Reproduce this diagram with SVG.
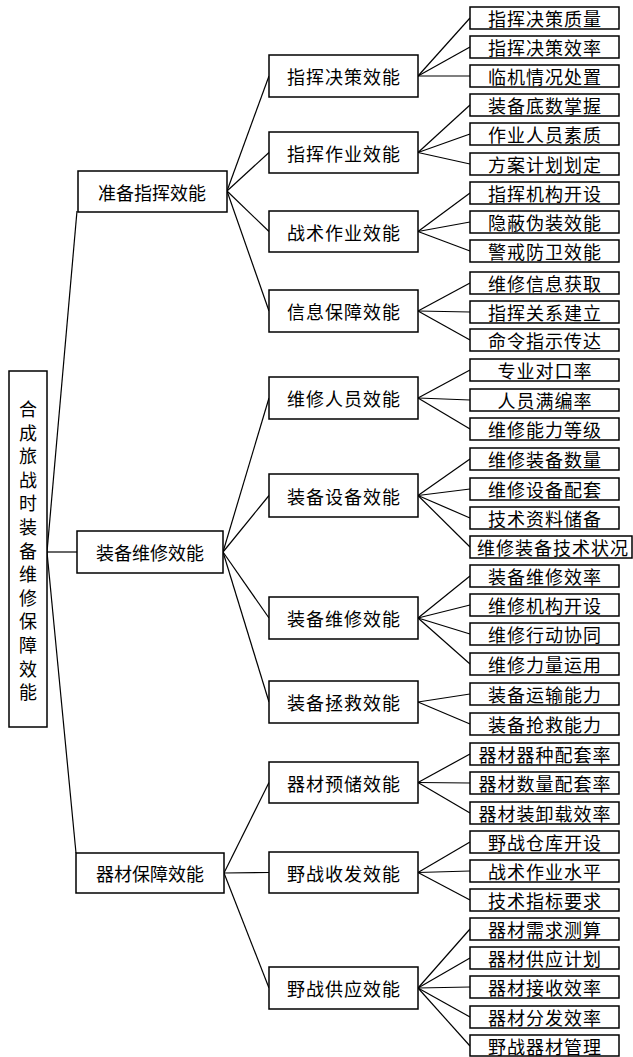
<svg xmlns="http://www.w3.org/2000/svg" width="633" height="1057" viewBox="0 0 633 1057">
<style>
.b{fill:#fff;stroke:#000;stroke-width:1.5}
.t{font-family:"Noto Sans CJK SC",sans-serif;font-size:18px;fill:#000;text-anchor:middle;dominant-baseline:central;letter-spacing:1px}
.r{letter-spacing:0}
.c line{stroke:#000;stroke-width:1.2}
</style>
<rect width="633" height="1057" fill="#fff"/>
<g class="c">
<line x1="47" y1="552" x2="77" y2="211"/>
<line x1="47" y1="552" x2="77" y2="552"/>
<line x1="47" y1="552" x2="76" y2="853"/>
<line x1="227" y1="191" x2="269" y2="76"/>
<line x1="227" y1="191" x2="269" y2="152.5"/>
<line x1="227" y1="191" x2="269" y2="231.5"/>
<line x1="227" y1="191" x2="269" y2="311"/>
<line x1="223" y1="552" x2="269" y2="398"/>
<line x1="223" y1="552" x2="269" y2="495.5"/>
<line x1="223" y1="552" x2="269" y2="618"/>
<line x1="223" y1="552" x2="269" y2="702"/>
<line x1="224" y1="873" x2="269" y2="782.5"/>
<line x1="224" y1="873" x2="269" y2="872.5"/>
<line x1="224" y1="873" x2="269" y2="988"/>
<line x1="418" y1="76" x2="470" y2="18"/>
<line x1="418" y1="76" x2="470" y2="47"/>
<line x1="418" y1="76" x2="470" y2="76"/>
<line x1="418" y1="152.5" x2="470" y2="105"/>
<line x1="418" y1="152.5" x2="470" y2="134"/>
<line x1="418" y1="152.5" x2="470" y2="164"/>
<line x1="418" y1="231.5" x2="470" y2="193"/>
<line x1="418" y1="231.5" x2="470" y2="222"/>
<line x1="418" y1="231.5" x2="470" y2="251"/>
<line x1="418" y1="311" x2="470" y2="283"/>
<line x1="418" y1="311" x2="470" y2="312"/>
<line x1="418" y1="311" x2="470" y2="340"/>
<line x1="418" y1="398" x2="470" y2="370"/>
<line x1="418" y1="398" x2="470" y2="400"/>
<line x1="418" y1="398" x2="470" y2="429"/>
<line x1="418" y1="495.5" x2="470" y2="459"/>
<line x1="418" y1="495.5" x2="470" y2="489"/>
<line x1="418" y1="495.5" x2="470" y2="518"/>
<line x1="418" y1="495.5" x2="470" y2="547"/>
<line x1="418" y1="618" x2="470" y2="576"/>
<line x1="418" y1="618" x2="470" y2="605"/>
<line x1="418" y1="618" x2="470" y2="634"/>
<line x1="418" y1="618" x2="470" y2="664"/>
<line x1="418" y1="702" x2="470" y2="694"/>
<line x1="418" y1="702" x2="470" y2="724"/>
<line x1="418" y1="782.5" x2="470" y2="754"/>
<line x1="418" y1="782.5" x2="470" y2="783"/>
<line x1="418" y1="782.5" x2="470" y2="813"/>
<line x1="418" y1="872.5" x2="470" y2="842"/>
<line x1="418" y1="872.5" x2="470" y2="871"/>
<line x1="418" y1="872.5" x2="470" y2="900"/>
<line x1="418" y1="988" x2="470" y2="929"/>
<line x1="418" y1="988" x2="470" y2="958"/>
<line x1="418" y1="988" x2="470" y2="987"/>
<line x1="418" y1="988" x2="470" y2="1017"/>
<line x1="418" y1="988" x2="470" y2="1046"/>
</g>
<g id="root"><rect class="b" x="9" y="371" width="38" height="356"/>
<text class="t r" x="28" y="408">合</text><text class="t r" x="28" y="431.6">成</text><text class="t r" x="28" y="455.2">旅</text><text class="t r" x="28" y="478.8">战</text><text class="t r" x="28" y="502.4">时</text><text class="t r" x="28" y="526">装</text><text class="t r" x="28" y="549.6">备</text><text class="t r" x="28" y="573.2">维</text><text class="t r" x="28" y="596.8">修</text><text class="t r" x="28" y="620.4">保</text><text class="t r" x="28" y="644">障</text><text class="t r" x="28" y="667.6">效</text><text class="t r" x="28" y="691.2">能</text></g>
<g id="n1"><rect class="b" x="78" y="171" width="149" height="41"/><text class="t r" x="152" y="191.5">准备指挥效能</text></g>
<g id="n2"><rect class="b" x="77" y="531" width="146" height="42"/><text class="t r" x="150" y="552">装备维修效能</text></g>
<g id="n3"><rect class="b" x="76" y="853" width="148" height="40"/><text class="t r" x="150" y="873">器材保障效能</text></g>
<g id="m1"><rect class="b" x="269" y="55" width="149" height="42"/><text class="t" x="344" y="76">指挥决策效能</text></g>
<g id="m2"><rect class="b" x="269" y="132" width="149" height="41"/><text class="t" x="344" y="152.5">指挥作业效能</text></g>
<g id="m3"><rect class="b" x="269" y="211" width="149" height="41"/><text class="t" x="344" y="231.5">战术作业效能</text></g>
<g id="m4"><rect class="b" x="269" y="290" width="149" height="42"/><text class="t" x="344" y="311">信息保障效能</text></g>
<g id="m5"><rect class="b" x="269" y="377" width="149" height="42"/><text class="t" x="344" y="398">维修人员效能</text></g>
<g id="m6"><rect class="b" x="269" y="474" width="149" height="43"/><text class="t" x="344" y="495.5">装备设备效能</text></g>
<g id="m7"><rect class="b" x="269" y="597" width="149" height="42"/><text class="t" x="344" y="618">装备维修效能</text></g>
<g id="m8"><rect class="b" x="269" y="681" width="149" height="42"/><text class="t" x="344" y="702">装备拯救效能</text></g>
<g id="m9"><rect class="b" x="269" y="762" width="149" height="41"/><text class="t" x="344" y="782.5">器材预储效能</text></g>
<g id="m10"><rect class="b" x="269" y="852" width="149" height="41"/><text class="t" x="344" y="872.5">野战收发效能</text></g>
<g id="m11"><rect class="b" x="269" y="967" width="149" height="42"/><text class="t" x="344" y="988">野战供应效能</text></g>
<g id="l0"><rect class="b" x="470" y="7" width="149" height="22"/><text class="t" x="545" y="18">指挥决策质量</text></g>
<g id="l1"><rect class="b" x="470" y="36" width="149" height="22"/><text class="t" x="545" y="47">指挥决策效率</text></g>
<g id="l2"><rect class="b" x="470" y="65" width="149" height="22"/><text class="t" x="545" y="76">临机情况处置</text></g>
<g id="l3"><rect class="b" x="470" y="94" width="149" height="22"/><text class="t" x="545" y="105">装备底数掌握</text></g>
<g id="l4"><rect class="b" x="470" y="123" width="149" height="22"/><text class="t" x="545" y="134">作业人员素质</text></g>
<g id="l5"><rect class="b" x="470" y="153" width="149" height="22"/><text class="t" x="545" y="164">方案计划划定</text></g>
<g id="l6"><rect class="b" x="470" y="182" width="149" height="22"/><text class="t" x="545" y="193">指挥机构开设</text></g>
<g id="l7"><rect class="b" x="470" y="211" width="149" height="22"/><text class="t" x="545" y="222">隐蔽伪装效能</text></g>
<g id="l8"><rect class="b" x="470" y="240" width="149" height="22"/><text class="t" x="545" y="251">警戒防卫效能</text></g>
<g id="l9"><rect class="b" x="470" y="272" width="149" height="22"/><text class="t" x="545" y="283">维修信息获取</text></g>
<g id="l10"><rect class="b" x="470" y="301" width="149" height="22"/><text class="t" x="545" y="312">指挥关系建立</text></g>
<g id="l11"><rect class="b" x="470" y="329" width="149" height="22"/><text class="t" x="545" y="340">命令指示传达</text></g>
<g id="l12"><rect class="b" x="470" y="359" width="149" height="22"/><text class="t" x="545" y="370">专业对口率</text></g>
<g id="l13"><rect class="b" x="470" y="389" width="149" height="22"/><text class="t" x="545" y="400">人员满编率</text></g>
<g id="l14"><rect class="b" x="470" y="418" width="149" height="22"/><text class="t" x="545" y="429">维修能力等级</text></g>
<g id="l15"><rect class="b" x="470" y="448" width="149" height="22"/><text class="t" x="545" y="459">维修装备数量</text></g>
<g id="l16"><rect class="b" x="470" y="478" width="149" height="22"/><text class="t" x="545" y="489">维修设备配套</text></g>
<g id="l17"><rect class="b" x="470" y="507" width="149" height="22"/><text class="t" x="545" y="518">技术资料储备</text></g>
<g id="l18"><rect class="b" x="470" y="536" width="162" height="22"/><text class="t" x="553" y="547">维修装备技术状况</text></g>
<g id="l19"><rect class="b" x="470" y="565" width="149" height="22"/><text class="t" x="545" y="576">装备维修效率</text></g>
<g id="l20"><rect class="b" x="470" y="594" width="149" height="22"/><text class="t" x="545" y="605">维修机构开设</text></g>
<g id="l21"><rect class="b" x="470" y="623" width="149" height="22"/><text class="t" x="545" y="634">维修行动协同</text></g>
<g id="l22"><rect class="b" x="470" y="653" width="149" height="22"/><text class="t" x="545" y="664">维修力量运用</text></g>
<g id="l23"><rect class="b" x="470" y="683" width="149" height="22"/><text class="t" x="545" y="694">装备运输能力</text></g>
<g id="l24"><rect class="b" x="470" y="713" width="149" height="22"/><text class="t" x="545" y="724">装备抢救能力</text></g>
<g id="l25"><rect class="b" x="470" y="743" width="149" height="22"/><text class="t" x="545" y="754">器材器种配套率</text></g>
<g id="l26"><rect class="b" x="470" y="772" width="149" height="22"/><text class="t" x="545" y="783">器材数量配套率</text></g>
<g id="l27"><rect class="b" x="470" y="802" width="149" height="22"/><text class="t" x="545" y="813">器材装卸载效率</text></g>
<g id="l28"><rect class="b" x="470" y="831" width="149" height="22"/><text class="t" x="545" y="842">野战仓库开设</text></g>
<g id="l29"><rect class="b" x="470" y="860" width="149" height="22"/><text class="t" x="545" y="871">战术作业水平</text></g>
<g id="l30"><rect class="b" x="470" y="889" width="149" height="22"/><text class="t" x="545" y="900">技术指标要求</text></g>
<g id="l31"><rect class="b" x="470" y="918" width="149" height="22"/><text class="t" x="545" y="929">器材需求测算</text></g>
<g id="l32"><rect class="b" x="470" y="947" width="149" height="22"/><text class="t" x="545" y="958">器材供应计划</text></g>
<g id="l33"><rect class="b" x="470" y="976" width="149" height="22"/><text class="t" x="545" y="987">器材接收效率</text></g>
<g id="l34"><rect class="b" x="470" y="1006" width="149" height="22"/><text class="t" x="545" y="1017">器材分发效率</text></g>
<g id="l35"><rect class="b" x="470" y="1035" width="149" height="21"/><text class="t" x="545" y="1046">野战器材管理</text></g>
</svg>
